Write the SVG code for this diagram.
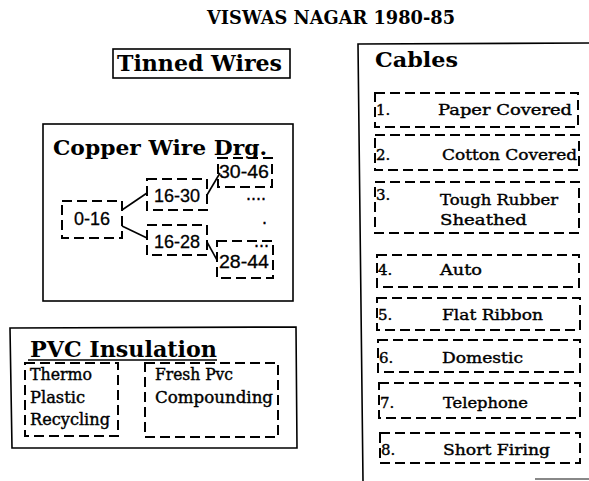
<svg xmlns="http://www.w3.org/2000/svg" width="589" height="481" viewBox="0 0 589 481">
<style>
text{fill:#000}
.t{font-family:"DejaVu Serif","Liberation Serif",serif;font-weight:bold}
.s{font-family:"DejaVu Serif","Liberation Serif",serif;font-size:15px;stroke:#000;stroke-width:0.4}
.p{font-family:"DejaVu Serif","Liberation Serif",serif;font-size:16px;stroke:#000;stroke-width:0.4}
.n{font-family:"Liberation Sans",Arial,sans-serif;font-size:18px;stroke:#000;stroke-width:0.3}
.box{fill:none;stroke:#000;stroke-width:1.6}
.dash{fill:none;stroke:#000;stroke-width:2;stroke-dasharray:10 5}
.con{stroke:#000;stroke-width:1.6;fill:none}
</style>
<rect width="589" height="481" fill="#fff"/>
<g id="title"><text class="t" x="207" y="24" font-size="19" textLength="248" lengthAdjust="spacingAndGlyphs">VISWAS NAGAR 1980-85</text></g>
<g id="tinned-wires">
<rect class="box" x="113" y="49" width="177" height="29"/>
<text class="t" x="117" y="71" font-size="22" textLength="165" lengthAdjust="spacingAndGlyphs">Tinned Wires</text>
</g>
<g id="copper-wire">
<rect class="box" x="43" y="124" width="250" height="177"/>
<text class="t" x="53" y="155" font-size="20" textLength="214" lengthAdjust="spacingAndGlyphs">Copper Wire Drg.</text>
<g id="c0-16"><rect class="dash" x="62" y="201" width="60" height="37"/><text class="n" x="92" y="225" text-anchor="middle">0-16</text></g>
<g id="c16-30"><rect class="dash" x="147" y="179" width="60" height="31"/><text class="n" x="177" y="202" text-anchor="middle">16-30</text></g>
<g id="c16-28"><rect class="dash" x="147" y="225" width="60" height="30"/><text class="n" x="177" y="248" text-anchor="middle">16-28</text></g>
<g id="c30-46"><rect class="dash" x="218" y="158" width="54" height="29"/><text class="n" x="219" y="178" textLength="50" lengthAdjust="spacingAndGlyphs">30-46</text></g>
<g id="c28-44"><rect class="dash" x="217" y="241" width="56" height="37"/><text class="n" x="219" y="268" textLength="50" lengthAdjust="spacingAndGlyphs">28-44</text><text class="n" x="254" y="247" font-size="14">...</text></g>
<text class="n" x="246" y="200" font-size="14">....</text>
<text class="n" x="262" y="224" font-size="14">.</text>
</g>
<g id="connectors">
<line class="con" x1="122" y1="210" x2="147" y2="193"/>
<line class="con" x1="122" y1="226" x2="147" y2="238"/>
<line class="con" x1="207" y1="195" x2="220" y2="173"/>
<line class="con" x1="207" y1="242" x2="217" y2="260"/>
</g>
<g id="pvc">
<path class="box" d="M10,328 L296,327 L297,448 L12,448 Z"/>
<text class="t" x="30" y="357" font-size="22" textLength="187" lengthAdjust="spacingAndGlyphs">PVC Insulation</text>
<line class="con" x1="28" y1="360" x2="217" y2="360"/>
<g id="thermo">
<rect class="dash" x="25" y="363" width="93" height="73"/>
<text class="p" x="30" y="380" textLength="62" lengthAdjust="spacingAndGlyphs">Thermo</text>
<text class="p" x="30" y="403" textLength="55" lengthAdjust="spacingAndGlyphs">Plastic</text>
<text class="p" x="30" y="425" textLength="80" lengthAdjust="spacingAndGlyphs">Recycling</text>
</g>
<g id="fresh">
<rect class="dash" x="145" y="363" width="133" height="74"/>
<text class="p" x="155" y="380" textLength="78" lengthAdjust="spacingAndGlyphs">Fresh Pvc</text>
<text class="p" x="155" y="403" textLength="118" lengthAdjust="spacingAndGlyphs">Compounding</text>
</g>
</g>
<g id="cables">
<path class="box" d="M589,43 L358,44 L363,481"/>
<line x1="535" y1="479" x2="589" y2="479" stroke="#888" stroke-width="2"/>
<text class="t" x="375" y="67" font-size="20" textLength="83" lengthAdjust="spacingAndGlyphs">Cables</text>
<g id="cab1"><rect class="dash" x="375" y="93" width="203" height="34"/><text class="s" x="376" y="115">1.</text><text class="s" x="438" y="115" textLength="134" lengthAdjust="spacingAndGlyphs">Paper Covered</text></g>
<g id="cab2"><rect class="dash" x="375" y="135" width="204" height="35"/><text class="s" x="376" y="160">2.</text><text class="s" x="442" y="160" textLength="135" lengthAdjust="spacingAndGlyphs">Cotton Covered</text></g>
<g id="cab3"><rect class="dash" x="375" y="182" width="204" height="51"/><text class="s" x="376" y="200">3.</text><text class="s" x="440" y="205" textLength="118" lengthAdjust="spacingAndGlyphs">Tough Rubber</text><text class="s" x="440" y="225" textLength="87" lengthAdjust="spacingAndGlyphs">Sheathed</text></g>
<g id="cab4"><rect class="dash" x="377" y="255" width="202" height="32"/><text class="s" x="378" y="275">4.</text><text class="s" x="440" y="275" textLength="42" lengthAdjust="spacingAndGlyphs">Auto</text></g>
<g id="cab5"><rect class="dash" x="377" y="298" width="203" height="32"/><text class="s" x="378" y="320">5.</text><text class="s" x="442" y="320" textLength="101" lengthAdjust="spacingAndGlyphs">Flat Ribbon</text></g>
<g id="cab6"><rect class="dash" x="378" y="340" width="202" height="32"/><text class="s" x="379" y="363">6.</text><text class="s" x="442" y="363" textLength="81" lengthAdjust="spacingAndGlyphs">Domestic</text></g>
<g id="cab7"><rect class="dash" x="379" y="383" width="201" height="35"/><text class="s" x="380" y="408">7.</text><text class="s" x="443" y="408" textLength="85" lengthAdjust="spacingAndGlyphs">Telephone</text></g>
<g id="cab8"><rect class="dash" x="380" y="433" width="200" height="30"/><text class="s" x="381" y="455">8.</text><text class="s" x="443" y="455" textLength="107" lengthAdjust="spacingAndGlyphs">Short Firing</text></g>
</g>
</svg>
